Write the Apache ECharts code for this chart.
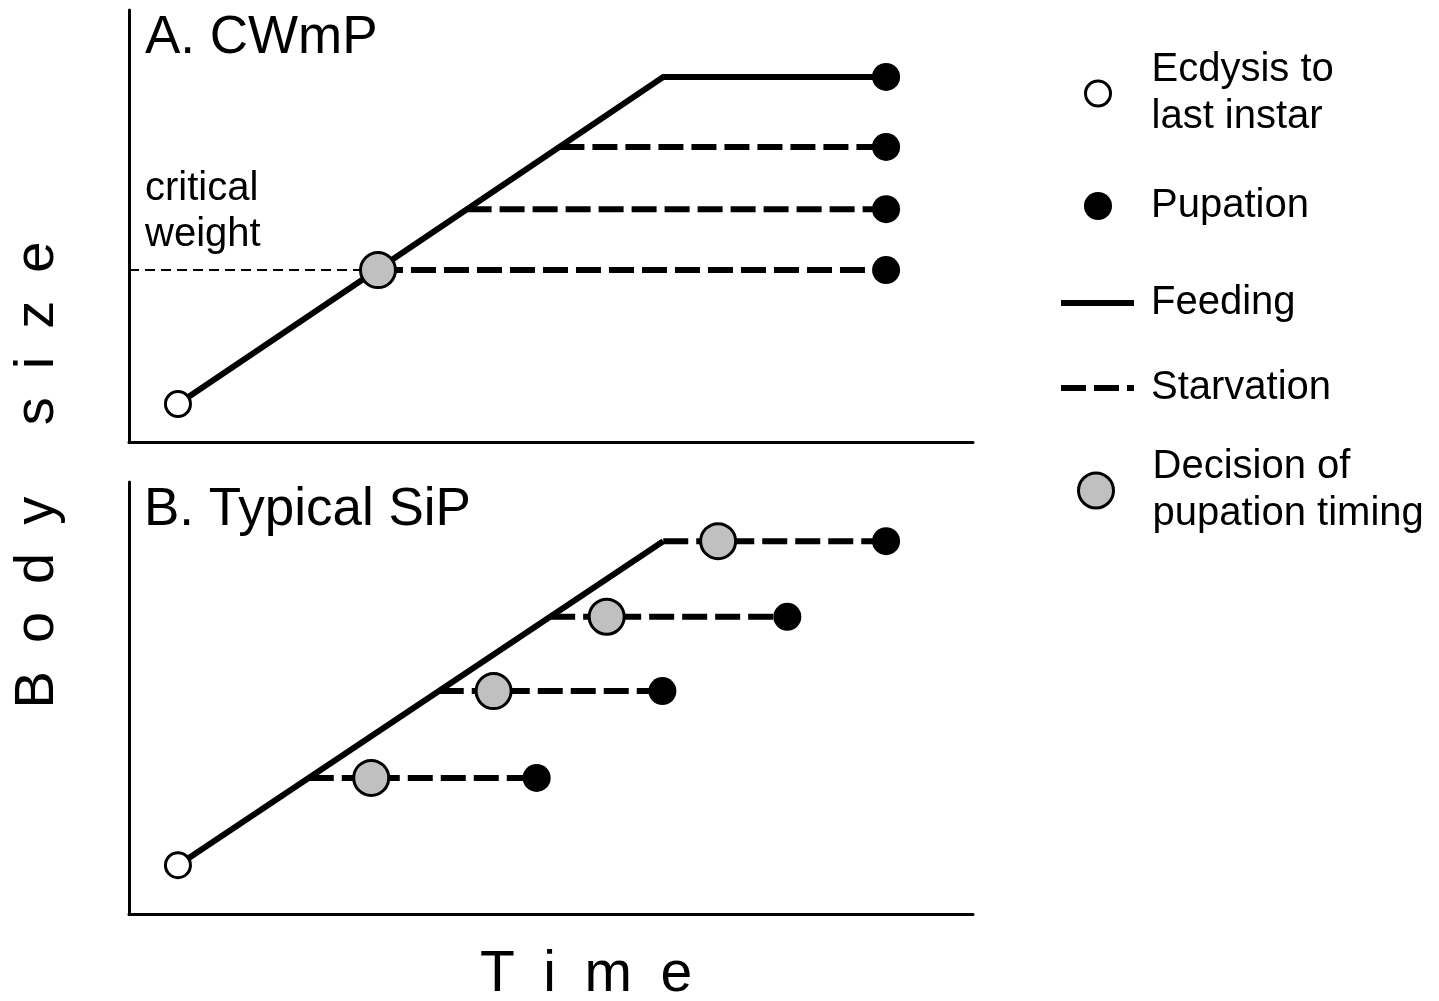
<!DOCTYPE html>
<html>
<head>
<meta charset="utf-8">
<script src="https://cdn.jsdelivr.net/npm/echarts@6/dist/echarts.min.js"></script>
<style>html,body{margin:0;padding:0;background:#fff}#c{width:1439px;height:1001px}</style>
</head>
<body>
<div id="c"></div>
<script>
const FONT = "'Liberation Sans', Arial, sans-serif";

// ---- Panel A: CWmP ----
const aFeeding = [[5.8, 8.8], [63.3, 84.5], [89.7, 84.5]];
const aStarvation = [
  [[29.5, 39.8], [89.7, 39.8]],
  [[40.0, 53.9], [89.7, 53.9]],
  [[51.0, 68.3], [89.7, 68.3]]
];
const aCriticalWeight = [[0, 39.8], [29.5, 39.8]];
const aEcdysis = [[5.8, 8.8]];
const aDecision = [[29.5, 39.8]];
const aPupation = [[89.7, 84.5], [89.7, 68.3], [89.7, 53.9], [89.7, 39.8]];

// ---- Panel B: Typical SiP ----
const bFeeding = [[5.8, 11.3], [63.3, 86.3]];
const bStarvation = [
  [[21.3, 31.5], [48.3, 31.5]],
  [[36.7, 51.6], [63.2, 51.6]],
  [[49.9, 68.8], [78.0, 68.8]],
  [[63.3, 86.3], [89.7, 86.3]]
];
const bEcdysis = [[5.8, 11.3]];
const bDecision = [[28.7, 31.5], [43.2, 51.6], [56.6, 68.8], [69.8, 86.3]];
const bPupation = [[48.3, 31.5], [63.2, 51.6], [78.0, 68.8], [89.7, 86.3]];

const panelTitles = ['A. CWmP', 'B. Typical SiP'];
const legendNames = ['Ecdysis to last instar', 'Pupation', 'Feeding', 'Starvation', 'Decision of pupation timing'];
const legendLabels = {
  'Ecdysis to last instar': 'Ecdysis to\nlast instar',
  'Pupation': 'Pupation',
  'Feeding': 'Feeding',
  'Starvation': 'Starvation',
  'Decision of pupation timing': 'Decision of\npupation timing'
};
const criticalLabel = 'critical\nweight';
const xTitle = 'T\u2002i\u2002m\u2002e';
const yTitle = 'B\u2002o\u2002d\u2002y\u2002 \u2002s\u2002i\u2002z\u2002e';

const DASH = [25, 8];

function feedLine(data, gi) {
  return { name: 'Feeding', type: 'line', xAxisIndex: gi, yAxisIndex: gi, data: data,
    symbol: 'none', silent: true, z: 2,
    lineStyle: { color: '#000', width: 6, type: 'solid', cap: 'butt', join: 'miter' },
    itemStyle: { color: '#000' } };
}
function starveLine(data, gi) {
  return { name: 'Starvation', type: 'line', xAxisIndex: gi, yAxisIndex: gi, data: data,
    symbol: 'none', silent: true, z: 2,
    lineStyle: { color: '#000', width: 6, type: DASH, cap: 'butt' },
    itemStyle: { color: '#000' } };
}
function ecdysis(data, gi) {
  return { name: 'Ecdysis to last instar', type: 'scatter', xAxisIndex: gi, yAxisIndex: gi, data: data,
    symbol: 'circle', symbolSize: 25, z: 4, silent: true,
    itemStyle: { color: '#fff', borderColor: '#000', borderWidth: 3, opacity: 1 } };
}
function decision(data, gi) {
  return { name: 'Decision of pupation timing', type: 'scatter', xAxisIndex: gi, yAxisIndex: gi, data: data,
    symbol: 'circle', symbolSize: 35, z: 4, silent: true,
    itemStyle: { color: '#c0c0c0', borderColor: '#000', borderWidth: 3, opacity: 1 } };
}
function pupation(data, gi) {
  return { name: 'Pupation', type: 'scatter', xAxisIndex: gi, yAxisIndex: gi, data: data,
    symbol: 'circle', symbolSize: 28, z: 4, silent: true,
    itemStyle: { color: '#000', borderWidth: 0, opacity: 1 } };
}

const series = [];
series.push(feedLine(aFeeding, 0));
aStarvation.forEach(s => series.push(starveLine(s, 0)));
series.push({ name: 'critical weight', type: 'line', xAxisIndex: 0, yAxisIndex: 0, data: aCriticalWeight,
  symbol: 'none', silent: true, z: 1,
  lineStyle: { color: '#000', width: 2, type: [10, 6] } });
series.push(ecdysis(aEcdysis, 0));
series.push(decision(aDecision, 0));
series.push(pupation(aPupation, 0));

series.push(feedLine(bFeeding, 1));
bStarvation.forEach(s => series.push(starveLine(s, 1)));
series.push(ecdysis(bEcdysis, 1));
series.push(decision(bDecision, 1));
series.push(pupation(bPupation, 1));

function axisX(gi) {
  return { type: 'value', gridIndex: gi, min: 0, max: 100,
    axisLine: { show: true, onZero: false, lineStyle: { color: '#000', width: 3 } },
    axisTick: { show: false }, axisLabel: { show: false }, splitLine: { show: false } };
}
function axisY(gi) {
  return { type: 'value', gridIndex: gi, min: 0, max: 100,
    axisLine: { show: true, onZero: false, lineStyle: { color: '#000', width: 3 } },
    axisTick: { show: false }, axisLabel: { show: false }, splitLine: { show: false } };
}

function legendItem(name, left, top, itemWidth, itemHeight, padLeft, extra) {
  return Object.assign({
    data: [name], orient: 'vertical', left: left, top: top, padding: 0,
    itemWidth: itemWidth, itemHeight: itemHeight, selectedMode: false,
    formatter: n => legendLabels[n],
    textStyle: { fontSize: 40, fontFamily: FONT, color: '#000', lineHeight: 47, padding: [0, 0, 0, padLeft] }
  }, extra || {});
}

const option = {
  animation: false,
  backgroundColor: '#fff',
  grid: [
    { left: 129, top: 10, width: 844, height: 432 },
    { left: 129, top: 482, width: 844, height: 432 }
  ],
  xAxis: [axisX(0), axisX(1)],
  yAxis: [axisY(0), axisY(1)],
  legend: [
    legendItem(legendNames[0], 1084, 46.5, 25, 25, 36, { itemStyle: { borderWidth: 3, borderColor: '#000' } }),
    legendItem(legendNames[1], 1084, 182.5, 28, 28, 34, { itemStyle: { borderWidth: 0 } }),
    legendItem(legendNames[2], 1058, 279.5, 73, 6, 12, { lineStyle: { width: 6, type: 'solid' } }),
    legendItem(legendNames[3], 1058, 364.5, 73, 6, 12, { lineStyle: { width: 6, type: DASH } }),
    legendItem(legendNames[4], 1077, 443.5, 35, 35, 34, { itemStyle: { borderWidth: 3, borderColor: '#000' } })
  ],
  graphic: [
    { type: 'text', x: 145, y: 38, silent: true,
      style: { text: panelTitles[0], fontSize: 53, fontFamily: FONT, fill: '#000', align: 'left', verticalAlign: 'middle' } },
    { type: 'text', x: 144, y: 510, silent: true,
      style: { text: panelTitles[1], fontSize: 53, fontFamily: FONT, fill: '#000', align: 'left', verticalAlign: 'middle' } },
    { type: 'text', x: 145, y: 212, silent: true,
      style: { text: criticalLabel, fontSize: 40, lineHeight: 46, fontFamily: FONT, fill: '#000', align: 'left', verticalAlign: 'middle' } },
    { type: 'text', x: 586, y: 975, silent: true,
      style: { text: xTitle, fontSize: 57, fontFamily: FONT, fill: '#000', align: 'center', verticalAlign: 'middle' } },
    { type: 'text', x: 38, y: 475, rotation: Math.PI / 2, silent: true,
      style: { text: yTitle, fontSize: 56, fontFamily: FONT, fill: '#000', align: 'center', verticalAlign: 'middle' } }
  ],
  series: series
};

const chart = echarts.init(document.getElementById('c'), null, { renderer: 'canvas' });
chart.setOption(option);
</script>
</body>
</html>
